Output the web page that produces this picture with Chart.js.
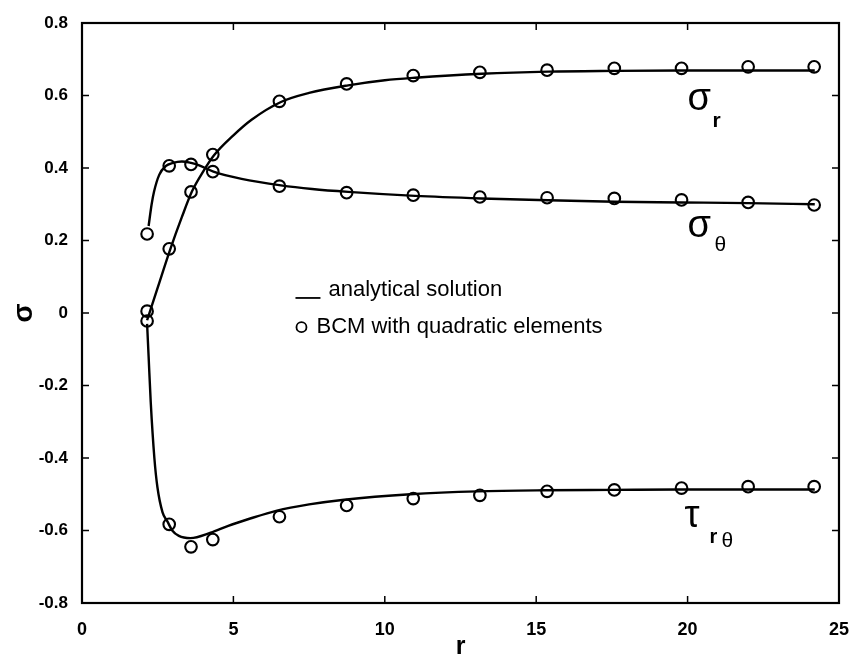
<!DOCTYPE html>
<html>
<head>
<meta charset="utf-8">
<script src="https://cdn.jsdelivr.net/npm/chart.js@4.4.1/dist/chart.umd.min.js"></script>
<style>
  html, body { margin: 0; padding: 0; background: #fff; }
</style>
</head>
<body>
<canvas id="myChart" width="857" height="662"></canvas>
<script>
// analytical curves, each sampled at its own radii
const rSigmaR = [2.15, 2.5, 2.92, 3.3, 3.63, 4.0, 4.36, 5.0, 5.6, 6.57, 7.5, 8.79, 10.0, 11.0, 13.2, 15.4, 17.6, 19.8, 22.0, 24.2];
const sigmaR = [-0.02, 0.07, 0.177, 0.265, 0.335, 0.39, 0.435, 0.49, 0.533, 0.582, 0.607, 0.628, 0.642, 0.649, 0.66, 0.666, 0.668, 0.669, 0.669, 0.669];

const rSigmaT = [2.2, 2.3, 2.38, 2.55, 2.76, 3.0, 3.3, 3.6, 3.85, 4.34, 5.27, 6.57, 7.6, 8.79, 11.0, 13.2, 15.4, 17.6, 19.8, 22.0, 24.2];
const sigmaT = [0.24, 0.3, 0.335, 0.381, 0.405, 0.414, 0.418, 0.414, 0.408, 0.39, 0.37, 0.352, 0.342, 0.334, 0.323, 0.316, 0.311, 0.307, 0.305, 0.303, 0.3];

const rTau = [2.15, 2.2, 2.27, 2.39, 2.49, 2.66, 2.82, 2.98, 3.2, 3.58, 4.25, 4.83, 5.48, 6.44, 7.5, 8.66, 10.85, 13.06, 15.28, 17.5, 19.7, 21.9, 24.2];
const tau = [-0.03, -0.12, -0.246, -0.4, -0.48, -0.55, -0.575, -0.6, -0.615, -0.621, -0.606, -0.587, -0.569, -0.545, -0.528, -0.515, -0.5, -0.492, -0.489, -0.488, -0.487, -0.487, -0.487];

// BCM nodal results
const rBcm = [2.15, 2.88, 3.6, 4.32, 6.52, 8.74, 10.94, 13.14, 15.36, 17.58, 19.8, 22.0, 24.18];
const sigmaRBcm = [0.005, 0.177, 0.334, 0.437, 0.584, 0.632, 0.655, 0.664, 0.67, 0.675, 0.675, 0.679, 0.679];
const sigmaTBcm = [0.218, 0.406, 0.41, 0.39, 0.35, 0.332, 0.325, 0.32, 0.318, 0.316, 0.312, 0.305, 0.298];
const tauBcm = [-0.022, -0.583, -0.645, -0.625, -0.562, -0.531, -0.512, -0.503, -0.492, -0.488, -0.483, -0.479, -0.479];

const xTicks = [0, 5, 10, 15, 20, 25];
const yTicks = [-0.8, -0.6, -0.4, -0.2, 0, 0.2, 0.4, 0.6, 0.8];

const FONT = "'Liberation Sans', Arial, Helvetica, sans-serif";

const toPoints = (xs, ys) => xs.map((x, i) => ({ x: x, y: ys[i] }));

const curve = (xs, ys) => ({
    data: toPoints(xs, ys),
    showLine: true,
    borderColor: '#000',
    borderWidth: 2.4,
    pointRadius: 0,
    cubicInterpolationMode: 'monotone',
});

const marks = (xs, ys) => ({
    data: toPoints(xs, ys),
    showLine: false,
    pointStyle: 'circle',
    pointRadius: 5.8,
    pointBorderWidth: 2.1,
    pointBorderColor: '#000',
    pointBackgroundColor: 'rgba(0,0,0,0)',
});

// box with inward tick marks, curve names and the in-plot key
const frame = {
    id: 'frame',
    afterDatasetsDraw(chart) {
        const { ctx, chartArea: a, scales: { x, y } } = chart;
        ctx.save();
        ctx.strokeStyle = '#000';
        ctx.lineWidth = 2.2;
        ctx.strokeRect(a.left, a.top, a.right - a.left, a.bottom - a.top);

        ctx.lineWidth = 1.5;
        ctx.beginPath();
        xTicks.forEach(v => {
            const px = x.getPixelForValue(v);
            ctx.moveTo(px, a.bottom); ctx.lineTo(px, a.bottom - 7);
            ctx.moveTo(px, a.top); ctx.lineTo(px, a.top + 7);
        });
        yTicks.forEach(v => {
            const py = y.getPixelForValue(v);
            ctx.moveTo(a.left, py); ctx.lineTo(a.left + 7, py);
            ctx.moveTo(a.right, py); ctx.lineTo(a.right - 7, py);
        });
        ctx.stroke();

        ctx.fillStyle = '#000';
        ctx.textBaseline = 'alphabetic';
        ctx.textAlign = 'left';
        const at = (r, s) => [x.getPixelForValue(r), y.getPixelForValue(s)];

        // sigma_r
        let [px, py] = at(20.0, 0.56);
        ctx.font = '38px ' + FONT;
        ctx.fillText('σ', px, py);
        ctx.font = 'bold 21px ' + FONT;
        ctx.fillText('r', px + 25, py + 17);

        // sigma_theta
        [px, py] = at(20.0, 0.21);
        ctx.font = '38px ' + FONT;
        ctx.fillText('σ', px, py);
        ctx.font = '21px ' + FONT;
        ctx.fillText('θ', px + 27, py + 14);

        // tau_r theta
        [px, py] = at(19.9, -0.59);
        ctx.font = '38px ' + FONT;
        ctx.fillText('τ', px, py);
        ctx.font = 'bold 20px ' + FONT;
        ctx.fillText('r', px + 25, py + 16);
        ctx.font = '21px ' + FONT;
        ctx.fillText('θ', px + 37, py + 20);

        // key
        ctx.font = '22px ' + FONT;
        [px, py] = at(7.05, 0.047);
        ctx.lineWidth = 1.8;
        ctx.beginPath();
        ctx.moveTo(px, py + 2);
        ctx.lineTo(px + 25, py + 2);
        ctx.stroke();
        ctx.fillText('analytical solution', px + 33, py);

        [px, py] = at(7.05, -0.039);
        ctx.beginPath();
        ctx.arc(px + 6, py, 5, 0, Math.PI * 2);
        ctx.stroke();
        ctx.textBaseline = 'middle';
        ctx.fillText('BCM with quadratic elements', px + 21, py);
        ctx.restore();
    },
};

const config = {
    type: 'scatter',
    data: {
        datasets: [
            curve(rSigmaR, sigmaR),
            curve(rSigmaT, sigmaT),
            curve(rTau, tau),
            marks(rBcm, sigmaRBcm),
            marks(rBcm, sigmaTBcm),
            marks(rBcm, tauBcm),
        ],
    },
    options: {
        responsive: false,
        animation: false,
        layout: { padding: { top: 23, right: 11, left: 0, bottom: 0 } },
        plugins: {
            legend: { display: false },
            tooltip: { enabled: false },
        },
        scales: {
            x: {
                type: 'linear',
                min: 0,
                max: 25,
                afterFit: (scale) => { scale.height = 59; },
                afterBuildTicks: (scale) => { scale.ticks = xTicks.map(v => ({ value: v })); },
                grid: { display: false },
                border: { display: false },
                ticks: {
                    color: '#000',
                    padding: 8,
                    maxRotation: 0,
                    font: { family: FONT, size: 18, weight: 'bold' },
                },
                title: {
                    display: true,
                    text: 'r',
                    color: '#000',
                    padding: { top: 0, bottom: 0 },
                    font: { family: FONT, size: 25, weight: 'bold' },
                },
            },
            y: {
                type: 'linear',
                min: -0.8,
                max: 0.8,
                afterFit: (scale) => { scale.width = 82; },
                afterBuildTicks: (scale) => { scale.ticks = yTicks.map(v => ({ value: v })); },
                grid: { display: false },
                border: { display: false },
                ticks: {
                    color: '#000',
                    padding: 6,
                    font: { family: FONT, size: 17, weight: 'bold' },
                    callback: (v) => (Math.abs(v) < 1e-9 ? '0' : v.toFixed(1)),
                },
                title: {
                    display: true,
                    text: 'σ',
                    color: '#000',
                    padding: { top: 7, bottom: 0 },
                    font: { family: FONT, size: 28, weight: 'bold' },
                },
            },
        },
    },
    plugins: [frame],
};

const ctx = document.getElementById('myChart').getContext('2d');
const myChart = new Chart(ctx, config);
</script>
</body>
</html>
